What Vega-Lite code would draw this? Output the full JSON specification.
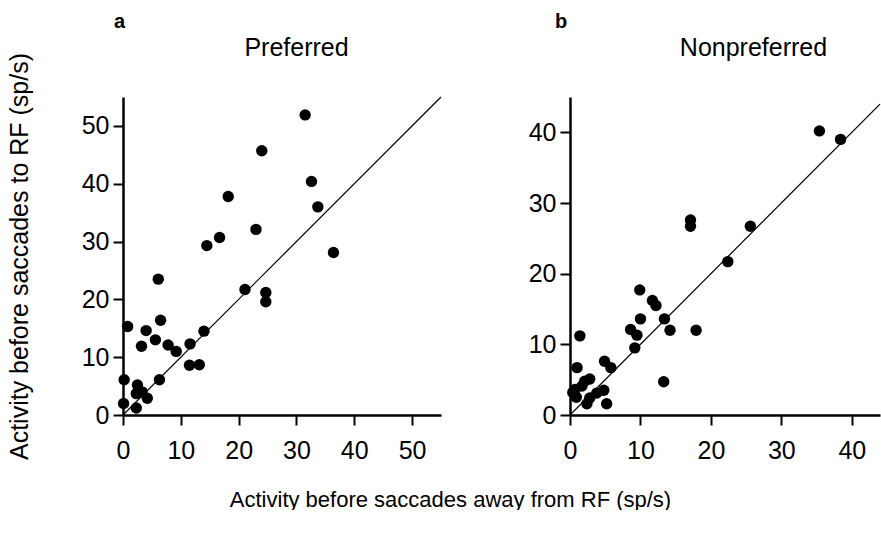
{
  "$schema": "https://vega.github.io/schema/vega-lite/v6.json",
  "padding": {"left": 6, "top": 12, "right": 0, "bottom": 0},
  "background": "white",
  "bounds": "flush",
  "spacing": 129,
  "config": {
    "view": {"stroke": null},
    "font": "Liberation Sans",
    "axis": {
      "grid": false,
      "domainColor": "black",
      "domainWidth": 2.5,
      "tickColor": "black",
      "tickWidth": 2,
      "tickSize": 10,
      "labelColor": "black",
      "labelFont": "Liberation Sans",
      "labelFontSize": 25,
      "titleFont": "Liberation Sans",
      "titleFontWeight": "normal",
      "titleColor": "black",
      "labelFlush": false,
      "labelOverlap": false
    },
    "title": {"font": "Liberation Sans", "fontSize": 20, "fontWeight": "bold", "color": "black", "anchor": "start", "frame": "group"}
  },
  "datasets": {
    "diagA": [{"away": 0, "toward": 0}, {"away": 55, "toward": 55}],
    "diagB": [{"away": 0, "toward": 0}, {"away": 44, "toward": 44}],
    "pref": [
      {"away": 31.5, "toward": 51.9}, {"away": 24.0, "toward": 45.7}, {"away": 32.6, "toward": 40.4},
      {"away": 18.2, "toward": 37.8}, {"away": 33.7, "toward": 36.0}, {"away": 16.7, "toward": 30.7},
      {"away": 14.5, "toward": 29.3}, {"away": 23.0, "toward": 32.1}, {"away": 36.4, "toward": 28.1},
      {"away": 6.1, "toward": 23.5}, {"away": 21.1, "toward": 21.7}, {"away": 24.7, "toward": 21.2},
      {"away": 24.7, "toward": 19.6}, {"away": 0.8, "toward": 15.3}, {"away": 6.5, "toward": 16.4},
      {"away": 4.0, "toward": 14.6}, {"away": 14.0, "toward": 14.5}, {"away": 5.6, "toward": 13.0},
      {"away": 3.2, "toward": 11.9}, {"away": 7.8, "toward": 12.1}, {"away": 9.2, "toward": 11.0},
      {"away": 11.6, "toward": 12.3}, {"away": 11.5, "toward": 8.6}, {"away": 13.2, "toward": 8.7},
      {"away": 0.2, "toward": 6.1}, {"away": 6.3, "toward": 6.1}, {"away": 2.5, "toward": 5.2},
      {"away": 2.3, "toward": 3.7}, {"away": 3.3, "toward": 4.0}, {"away": 4.2, "toward": 2.9},
      {"away": 0.1, "toward": 2.0}, {"away": 2.3, "toward": 1.2}
    ],
    "nonpref": [
      {"away": 35.4, "toward": 40.2}, {"away": 38.4, "toward": 39.0}, {"away": 17.1, "toward": 27.6},
      {"away": 17.1, "toward": 26.7}, {"away": 25.6, "toward": 26.7}, {"away": 22.4, "toward": 21.7},
      {"away": 9.9, "toward": 17.7}, {"away": 11.7, "toward": 16.2}, {"away": 12.2, "toward": 15.5},
      {"away": 10.0, "toward": 13.6}, {"away": 13.4, "toward": 13.6}, {"away": 8.6, "toward": 12.1},
      {"away": 9.5, "toward": 11.3}, {"away": 14.2, "toward": 12.0}, {"away": 17.9, "toward": 12.0},
      {"away": 1.4, "toward": 11.2}, {"away": 9.2, "toward": 9.5}, {"away": 4.9, "toward": 7.6},
      {"away": 5.8, "toward": 6.7}, {"away": 1.0, "toward": 6.7}, {"away": 2.8, "toward": 5.1},
      {"away": 2.1, "toward": 4.8}, {"away": 1.7, "toward": 4.1}, {"away": 0.7, "toward": 3.6},
      {"away": 0.9, "toward": 2.5}, {"away": 13.3, "toward": 4.7}, {"away": 3.8, "toward": 3.1},
      {"away": 4.8, "toward": 3.5}, {"away": 2.8, "toward": 2.4}, {"away": 2.4, "toward": 1.6},
      {"away": 5.2, "toward": 1.6}, {"away": 0.4, "toward": 3.2}
    ]
  },
  "hconcat": [
    {
      "width": 318,
      "height": 318,
      "title": {"text": "a", "dx": -9, "offset": 3},
      "layer": [
        {
          "data": {"name": "diagA"},
          "mark": {"type": "line", "color": "black", "strokeWidth": 1.2},
          "encoding": {
            "x": {"field": "away", "type": "quantitative", "scale": {"domain": [0, 55], "nice": false}, "axis": null},
            "y": {
              "field": "toward", "type": "quantitative", "scale": {"domain": [0, 55], "nice": false},
              "axis": {
                "values": [0, 10, 20, 30, 40, 50], "labelPadding": 4,
                "title": "Activity before saccades to RF (sp/s)",
                "titleFontSize": 25, "titleX": -96, "titleBaseline": "alphabetic", "titleAngle": -90
              }
            }
          }
        },
        {
          "data": {"name": "pref"},
          "mark": {"type": "circle", "color": "black", "opacity": 1, "size": 130},
          "encoding": {
            "x": {
              "field": "away", "type": "quantitative",
              "scale": {"domain": [0, 55], "nice": false},
              "axis": {
                "orient": "bottom",
                "values": [0, 10, 20, 30, 40, 50], "labelPadding": 13,
                "title": "Activity before saccades away from RF (sp/s)",
                "titleFontSize": 22, "titleX": 327, "titleY": 91, "titleBaseline": "alphabetic", "titleAnchor": "middle"
              }
            },
            "y": {
              "field": "toward", "type": "quantitative",
              "scale": {"domain": [0, 55], "nice": false},
              "axis": {
                "values": [0, 10, 20, 30, 40, 50], "labelPadding": 4,
                "title": "Activity before saccades to RF (sp/s)",
                "titleFontSize": 25, "titleX": -96, "titleBaseline": "alphabetic", "titleAngle": -90
              }
            }
          }
        },
        {
          "data": {"name": "pref"},
          "mark": {"type": "point", "opacity": 0},
          "encoding": {
            "x": {
              "field": "away", "type": "quantitative",
              "axis": {
                "orient": "top", "domain": false, "ticks": false, "labels": false,
                "title": "Preferred", "titleFontSize": 25, "titleX": 173, "titleY": -42,
                "titleBaseline": "alphabetic", "titleAnchor": "middle"
              }
            }
          }
        }
      ],
      "resolve": {"axis": {"x": "independent"}}
    },
    {
      "width": 310,
      "height": 318,
      "title": {"text": "b", "dx": -15, "offset": 3},
      "layer": [
        {
          "data": {"name": "diagB"},
          "mark": {"type": "line", "color": "black", "strokeWidth": 1.2},
          "encoding": {
            "x": {"field": "away", "type": "quantitative", "scale": {"domain": [0, 44], "nice": false}, "axis": null},
            "y": {
              "field": "toward", "type": "quantitative", "scale": {"domain": [0, 45], "nice": false},
              "axis": {"values": [0, 10, 20, 30, 40], "labelPadding": 4, "title": null}
            }
          }
        },
        {
          "data": {"name": "nonpref"},
          "mark": {"type": "circle", "color": "black", "opacity": 1, "size": 130},
          "encoding": {
            "x": {
              "field": "away", "type": "quantitative",
              "scale": {"domain": [0, 44], "nice": false},
              "axis": {"orient": "bottom", "values": [0, 10, 20, 30, 40], "labelPadding": 13, "title": null}
            },
            "y": {
              "field": "toward", "type": "quantitative",
              "scale": {"domain": [0, 45], "nice": false},
              "axis": {"values": [0, 10, 20, 30, 40], "labelPadding": 4, "title": null}
            }
          }
        },
        {
          "data": {"name": "nonpref"},
          "mark": {"type": "point", "opacity": 0},
          "encoding": {
            "x": {
              "field": "away", "type": "quantitative",
              "axis": {
                "orient": "top", "domain": false, "ticks": false, "labels": false,
                "title": "Nonpreferred", "titleFontSize": 25, "titleX": 183, "titleY": -42,
                "titleBaseline": "alphabetic", "titleAnchor": "middle"
              }
            }
          }
        }
      ],
      "resolve": {"axis": {"x": "independent"}}
    }
  ]
}
